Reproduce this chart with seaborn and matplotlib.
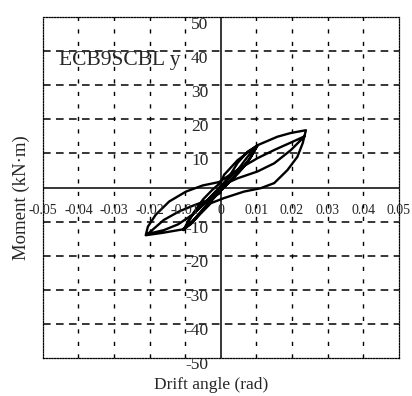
import matplotlib
matplotlib.use("Agg")
import matplotlib.pyplot as plt
import seaborn as sns
import pandas as pd

# Cyclic loading record: drift angle (rad) and moment (kN·m), in loading order
drift_angle = [
    0.0, 0.0019, 0.0047, 0.0075, 0.0103,
    0.0085, 0.006, 0.003, 0.0, -0.003, -0.006, -0.0085, -0.0105,
    -0.0085, -0.0055, -0.0025, 0.0, 0.0025, 0.0047, 0.0075, 0.0103,
    0.008, 0.005, 0.002, -0.001, -0.004, -0.007, -0.0103,
    -0.0075, -0.005, -0.0025, 0.0, 0.0009, 0.0047, 0.0103, 0.0159, 0.0197, 0.0239,
    0.023, 0.0215, 0.0187, 0.015, 0.0112, 0.0065, 0.0009, -0.0028, -0.006, -0.0085,
    -0.0108, -0.0164, -0.0211,
    -0.0205, -0.0183, -0.0145, -0.0098, -0.0051, -0.0005, 0.0047, 0.0103, 0.015,
    0.0197, 0.0235,
    0.0197, 0.015, 0.0103, 0.0047, 0.0, -0.004, -0.008, -0.012, -0.016, -0.0205,
    -0.016, -0.0117, -0.0075, -0.0033, 0.0,
]
moment = [
    0.0, 2.2, 5.1, 9.0, 12.4,
    9.0, 5.5, 2.2, -0.8, -3.8, -7.5, -10.5, -12.5,
    -8.5, -5.5, -2.5, 0.3, 3.5, 7.2, 10.5, 12.3,
    8.2, 4.4, 1.2, -2.0, -5.5, -9.0, -12.3,
    -7.2, -3.5, -0.8, 1.5, 3.7, 8.0, 12.4, 14.9, 16.0, 16.8,
    13.0, 9.0, 5.1, 1.3, -0.2, -1.2, -3.1, -4.6, -8.0, -10.8,
    -12.3, -13.3, -14.0,
    -11.5, -8.0, -4.1, -1.2, 0.6, 1.6, 5.2, 8.6, 11.0,
    13.2, 15.0,
    11.0, 7.1, 4.7, 2.7, 0.5, -4.0, -8.0, -10.8, -12.5, -13.6,
    -9.5, -7.0, -5.2, -3.6, -1.5,
]

x_ticks = [-0.05, -0.04, -0.03, -0.02, -0.01, 0.0, 0.01, 0.02, 0.03, 0.04, 0.05]
x_tick_labels = ["-0.05", "-0.04", "-0.03", "-0.02", "-0.01", "0",
                 "0.01", "0.02", "0.03", "0.04", "0.05"]
y_ticks = [50, 40, 30, 20, 10, -10, -20, -30, -40, -50]
y_tick_labels = ["50", "40", "30", "20", "10", "-10", "-20", "-30", "-40", "-50"]

specimen = "ECB9SCBL y"

sns.set_style("white")
plt.rcParams["font.family"] = ["Liberation Serif", "DejaVu Serif"]

fig = plt.figure(figsize=(4.12, 3.96), dpi=100)
ax = fig.add_axes([0.104, 0.096, 0.864, 0.861])

df = pd.DataFrame({"drift": drift_angle, "moment": moment, "step": range(len(moment))})

# Dashed grid
for xv in x_ticks[1:-1]:
    if xv != 0:
        ax.axvline(xv, color="black", lw=1.0, ls=(0, (3, 6)), zorder=1)
for yv in y_ticks[1:-1]:
    ax.axhline(yv, color="black", lw=1.1, ls=(0, (5, 3.5)), zorder=1)

# Solid zero axes
ax.axhline(0, color="black", lw=1.1, zorder=2)
ax.axvline(0, color="black", lw=1.1, zorder=2)

sns.lineplot(data=df, x="drift", y="moment", sort=False, estimator=None,
             color="black", lw=1.7, ax=ax, zorder=3)

ax.set_xlim(-0.05, 0.05)
ax.set_ylim(-50, 50)
ax.set_xticks([])
ax.set_yticks([])
ax.set_xlabel("")
ax.set_ylabel("")

for s in ax.spines.values():
    s.set_visible(True)
    s.set_color("black")
    s.set_linewidth(0.9)
    s.set_linestyle((0, (1, 1.2)))

# Tick labels placed along the zero axes
for xv, lab in zip(x_ticks, x_tick_labels):
    ax.text(xv, -6.6, lab, ha="center", va="center", fontsize=10, zorder=4,
            clip_on=False)
for yv, lab in zip(y_ticks, y_tick_labels):
    ax.text(-0.0035, yv - 2.2, lab, ha="right", va="center", fontsize=12.5, zorder=4,
            clip_on=False)

ax.text(-0.0455, 36, specimen, ha="left", va="baseline", fontsize=15.5, zorder=4)

fig.text(0.512, 0.027, "Drift angle (rad)", ha="center", va="center", fontsize=12.5)
fig.text(0.052, 0.50, "Moment (kN·m)", ha="center", va="center", fontsize=13.5,
         rotation=90)

fig.savefig("out.png", dpi=100)
